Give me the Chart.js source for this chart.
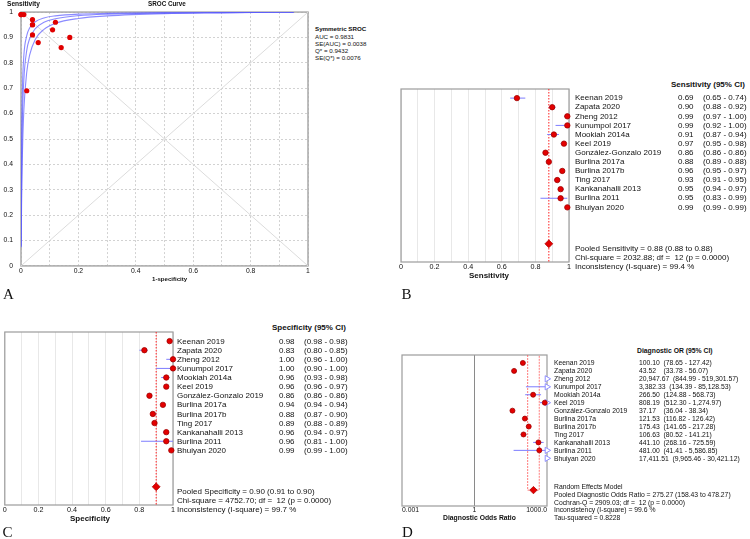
<!DOCTYPE html>
<html>
<head>
<meta charset="utf-8">
<script src="https://cdn.jsdelivr.net/npm/chart.js@4.4.1/dist/chart.umd.min.js"></script>
<style>
  body { margin: 0; width: 750px; height: 539px; position: relative; overflow: hidden; background: #fff;
         font-family: "Liberation Sans", Arial, sans-serif; color: #111; }
  canvas { position: absolute; }
  .t { position: absolute; white-space: pre; line-height: 1; transform: translateY(-50%); }
  .b { font-weight: bold; }
  .letter { position: absolute; font-family: "Liberation Serif", "Times New Roman", serif; font-size: 15px; line-height: 1; }
  .v { display: inline-block; min-width: 20.8px; margin-right: 3.7px; }
</style>
</head>
<body>
<canvas id="sroc" width="312" height="278" style="left:0;top:0"></canvas>
<canvas id="sens" width="183" height="194" style="left:393px;top:80px"></canvas>
<canvas id="spec" width="181" height="195" style="left:0;top:322px"></canvas>
<canvas id="dor" width="163" height="172" style="left:392px;top:346px"></canvas>

<script>
// ---- data ----
const studies = ['Keenan 2019', 'Zapata 2020', 'Zheng 2012', 'Kunumpol 2017', 'Mookiah 2014a', 'Keel 2019',
  'González-Gonzalo 2019', 'Burlina 2017a', 'Burlina 2017b', 'Ting 2017', 'Kankanahalli 2013', 'Burlina 2011', 'Bhuiyan 2020'];

const sensVal = [0.69, 0.90, 0.99, 0.99, 0.91, 0.97, 0.86, 0.88, 0.96, 0.93, 0.95, 0.95, 0.99];
const sensLo  = [0.65, 0.88, 0.97, 0.92, 0.87, 0.95, 0.86, 0.89, 0.95, 0.91, 0.94, 0.83, 0.99];
const sensHi  = [0.74, 0.92, 1.00, 1.00, 0.94, 0.98, 0.86, 0.88, 0.97, 0.95, 0.97, 0.99, 0.99];

const specVal = [0.98, 0.83, 1.00, 1.00, 0.96, 0.96, 0.86, 0.94, 0.88, 0.89, 0.96, 0.96, 0.99];
const specLo  = [0.98, 0.80, 0.96, 0.90, 0.93, 0.96, 0.86, 0.94, 0.87, 0.88, 0.94, 0.81, 0.99];
const specHi  = [0.98, 0.85, 1.00, 1.00, 0.98, 0.97, 0.86, 0.94, 0.90, 0.89, 0.97, 1.00, 1.00];

const dorVal = [100.10, 43.52, 20947.67, 3382.33, 266.50, 808.19, 37.17, 121.53, 175.43, 106.63, 441.10, 481.00, 17411.51];
const dorLo  = [78.65, 33.78, 844.99, 134.39, 124.88, 512.30, 36.04, 116.82, 141.65, 80.52, 268.16, 41.41, 9965.46];
const dorHi  = [127.42, 56.07, 519301.57, 85128.53, 568.73, 1274.97, 38.34, 126.42, 217.28, 141.21, 725.59, 5586.85, 30421.12];

// pooled: estimate, lower, upper
const pooledSens = [0.88, 0.88, 0.88];
const pooledSpec = [0.90, 0.91, 0.90];
const pooledDor  = [275.27, 158.43, 478.27];

const sensSummary = ['Pooled Sensitivity = 0.88 (0.88 to 0.88)', 'Chi-square = 2032.88; df =  12 (p = 0.0000)', 'Inconsistency (I-square) = 99.4 %'];
const specSummary = ['Pooled Specificity = 0.90 (0.91 to 0.90)', 'Chi-square = 4752.70; df =  12 (p = 0.0000)', 'Inconsistency (I-square) = 99.7 %'];
const dorSummary  = ['Random Effects Model', 'Pooled Diagnostic Odds Ratio = 275.27 (158.43 to 478.27)', 'Cochran-Q = 2909.03; df =  12 (p = 0.0000)', 'Inconsistency (I-square) = 99.6 %', 'Tau-squared = 0.8228'];
const srocSummary = ['AUC = 0.9831', 'SE(AUC) = 0.0038', 'Q* = 0.9432', 'SE(Q*) = 0.0076'];

// SROC curves: [1-specificity, sensitivity]
const srocInner = [[0.0002, 0.08], [0.002, 0.49], [0.005, 0.70], [0.01, 0.83], [0.02, 0.907], [0.03, 0.937], [0.05, 0.962],
  [0.08, 0.977], [0.12, 0.985], [0.2, 0.992], [0.3, 0.995], [0.5, 0.998], [0.7, 0.999], [0.95, 1.0]];
const srocMid = [[0.0003, 0.076], [0.002, 0.355], [0.005, 0.58], [0.01, 0.735], [0.02, 0.849], [0.03, 0.895], [0.05, 0.935],
  [0.08, 0.96], [0.12, 0.974], [0.2, 0.986], [0.3, 0.992], [0.5, 0.996], [0.7, 0.998], [0.95, 1.0]];
const srocOuter = [[0.0005, 0.073], [0.002, 0.24], [0.005, 0.443], [0.01, 0.615], [0.02, 0.763], [0.03, 0.83], [0.05, 0.893],
  [0.08, 0.932], [0.12, 0.956], [0.2, 0.975], [0.3, 0.985], [0.5, 0.994], [0.7, 0.997], [0.95, 1.0]];
const chanceLine = [[0, 0], [1, 1]];
const antiDiagonal = [[0, 1], [1, 0]];

// ticks
const rocGrid = [0, 0.1, 0.2, 0.3, 0.4, 0.5, 0.6, 0.7, 0.8, 0.9, 1];
const rocLabelsY = ['0', '0.1', '0.2', '0.3', '0.4', '0.5', '0.6', '0.7', '0.8', '0.9', '1'];
const propLabelsX = ['0', '0.2', '0.4', '0.6', '0.8', '1'];
const dorTicks = [0.001, 1, 1000];
const dorTickLabels = ['0.001', '1', '1000.0'];
const nullEffect = 1;

// ---- setup ----
Chart.defaults.font.family = '"Liberation Sans", Arial, sans-serif';
Chart.defaults.color = '#111';
Chart.defaults.animation = false;

// box around the plot area
Chart.register({
  id: 'frame',
  beforeDatasetsDraw(chart, args, opts) {
    const a = chart.chartArea, ctx = chart.ctx;
    ctx.save();
    ctx.strokeStyle = opts.color || '#999';
    ctx.lineWidth = opts.width || 1;
    ctx.strokeRect(a.left, a.top, a.right - a.left, a.bottom - a.top);
    ctx.restore();
  }
});

function seg(points, color, width, dash, order) {
  return {
    data: points.map(p => ({ x: p[0], y: p[1] })),
    showLine: true, borderColor: color, borderWidth: width, borderDash: dash || [],
    pointRadius: 0, order: order
  };
}

function txt(x, y, s, size, cls) {
  const d = document.createElement('div');
  d.className = 't' + (cls ? ' ' + cls : '');
  d.style.left = x + 'px';
  d.style.top = y + 'px';
  d.style.fontSize = size + 'px';
  d.textContent = s;
  document.body.appendChild(d);
  return d;
}

function letter(x, y, s) {
  const d = document.createElement('div');
  d.className = 'letter';
  d.style.left = x + 'px';
  d.style.top = y + 'px';
  d.textContent = s;
  document.body.appendChild(d);
}

const baseOpts = {
  responsive: false,
  events: [],
  plugins: { legend: { display: false }, tooltip: { enabled: false } }
};

// ---- A: SROC ----
const rocPoints = specVal.map((s, i) => ({ x: 1 - s, y: sensVal[i] }));

new Chart(document.getElementById('sroc'), {
  type: 'scatter',
  data: {
    datasets: [
      { data: rocPoints, pointRadius: 2.6, backgroundColor: '#e00000', borderWidth: 0, order: 0, clip: false },
      seg(srocInner, 'rgba(90,90,255,0.7)', 1.1, [], 1),
      seg(srocMid, 'rgba(90,90,255,0.7)', 1.1, [], 1),
      seg(srocOuter, 'rgba(90,90,255,0.7)', 1.1, [], 1),
      seg(chanceLine, '#dcdcdc', 1, [], 5),
      seg(antiDiagonal, '#dcdcdc', 1, [], 5)
    ].map(d => d.showLine ? Object.assign(d, { cubicInterpolationMode: 'monotone' }) : d)
  },
  options: Object.assign({}, baseOpts, {
    layout: { padding: { top: 11, right: 3, left: 0, bottom: 0 } },
    plugins: Object.assign({}, baseOpts.plugins, { frame: { color: '#a9a9a9', width: 1.5 } }),
    scales: {
      x: {
        type: 'linear', min: 0, max: 1,
        afterBuildTicks: s => { s.ticks = rocGrid.map(v => ({ value: v })); },
        afterFit: s => { s.height = 11; },
        ticks: { font: { size: 6.8 }, padding: 1.2, maxRotation: 0, autoSkip: false,
                 callback: (v, i) => i % 2 ? '' : propLabelsX[i / 2] },
        grid: { color: '#d2d2d2', drawTicks: false },
        border: { display: false, dash: [2, 2] }
      },
      y: {
        type: 'linear', min: 0, max: 1,
        afterBuildTicks: s => { s.ticks = rocGrid.map(v => ({ value: v })); },
        afterFit: s => { s.width = 21; },
        ticks: { font: { size: 6.8 }, padding: 8, autoSkip: false, callback: (v, i) => rocLabelsY[i] },
        grid: { color: '#d2d2d2', drawTicks: false },
        border: { display: false, dash: [2, 2] }
      }
    }
  })
});

txt(7, 4.2, 'Sensitivity', 6.6, 'b');
txt(148, 4.2, 'SROC Curve', 6.3, 'b');
txt(152, 279, '1-specificity', 6.1, 'b');
txt(315, 29.3, 'Symmetric SROC', 6.2, 'b');
srocSummary.forEach((s, i) => txt(315, 36.5 + i * 7.2, s, 6.2));
letter(3, 287.4, 'A');

// ---- forest plots ----
const pooledRow = studies.length + 4;
const rowMax = pooledRow + 2;

function forest(id, o) {
  const ds = [];
  ds.push({ data: o.val.map((v, i) => ({ x: v, y: i + 1 })), pointRadius: o.r, backgroundColor: '#e40000',
            borderColor: '#a00000', borderWidth: 0.8, order: 0, clip: o.clip });
  ds.push({ data: [{ x: o.pooled[0], y: pooledRow }], pointStyle: 'rectRot', pointRadius: o.r + 1.2,
            backgroundColor: '#e40000', borderColor: '#b00000', borderWidth: 0.8, order: 0, clip: false });
  o.val.forEach((v, i) => ds.push(seg([[o.lo[i], i + 1], [o.hi[i], i + 1]], '#7d7dff', 1, [], 2)));
  (o.extra || []).forEach(d => ds.push(d));

  new Chart(document.getElementById(id), {
    type: 'scatter',
    data: { datasets: ds },
    options: Object.assign({}, baseOpts, {
      layout: { padding: o.pad },
      plugins: Object.assign({}, baseOpts.plugins, { frame: { color: '#9c9c9c', width: 1.2 } }),
      scales: {
        x: Object.assign({
          afterFit: s => { s.height = 12; },
          border: { display: false }
        }, o.x),
        y: { type: 'linear', min: 0, max: rowMax, reverse: true, display: false }
      }
    })
  });
}

function propAxis() {
  return {
    type: 'linear', min: 0, max: 1,
    afterBuildTicks: s => { s.ticks = rocGrid.map(v => ({ value: v })); },
    ticks: { font: { size: 7.2 }, padding: 0.6, maxRotation: 0, autoSkip: false,
             callback: (v, i) => i % 2 ? '' : propLabelsX[i / 2] },
    grid: { color: '#e8e8e8', drawTicks: false }
  };
}

// B: sensitivity
forest('sens', {
  val: sensVal, lo: sensLo, hi: sensHi, pooled: pooledSens, r: 2.7, clip: false,
  pad: { top: 9, left: 8, right: 7, bottom: 0 },
  x: propAxis(),
  extra: [seg([[pooledSens[0], 0], [pooledSens[0], rowMax]], '#ff2020', 1, [1.5, 1.5], 3)]
});

// C: specificity
forest('spec', {
  val: specVal, lo: specLo, hi: specHi, pooled: pooledSpec, r: 2.7, clip: false,
  pad: { top: 10, left: 3, right: 8, bottom: 0 },
  x: propAxis(),
  extra: [seg([[pooledSpec[0], 0], [pooledSpec[0], rowMax]], '#ff2020', 1, [1.5, 1.5], 3)]
});

// D: diagnostic odds ratio
const dorMax = dorTicks[dorTicks.length - 1];
const beyond = [];
dorHi.forEach((h, i) => { if (h > dorMax) beyond.push({ x: dorMax, y: i + 1 }); });

forest('dor', {
  val: dorVal, lo: dorLo, hi: dorHi, pooled: pooledDor, r: 2.5, clip: 4,
  pad: { top: 9, left: 10, right: 8, bottom: 0 },
  x: {
    type: 'logarithmic', min: dorTicks[0], max: dorMax,
    afterBuildTicks: s => { s.ticks = dorTicks.map(v => ({ value: v })); },
    ticks: { font: { size: 6.8 }, padding: 0, maxRotation: 0, autoSkip: false, align: 'inner',
             callback: (v, i) => dorTickLabels[i] },
    grid: { drawTicks: false, color: c => c.tick && c.tick.value === nullEffect ? '#8a8a8a' : 'rgba(0,0,0,0)' }
  },
  extra: [
    { data: beyond, pointStyle: 'triangle', rotation: 90, pointRadius: 3.6, backgroundColor: '#fff',
      borderColor: '#8f8fff', borderWidth: 1, order: 1, clip: false },
    seg([[pooledDor[1], 0], [pooledDor[1], pooledRow], [pooledDor[2], pooledRow], [pooledDor[2], 0]],
        'rgba(255,80,80,0.75)', 1, [2, 1], 3)
  ]
});

// ---- forest plot texts ----
function fmt2(v) { return v.toFixed(2); }
function fmtDor(v) { return v.toLocaleString('en-US', { minimumFractionDigits: 2, maximumFractionDigits: 2 }); }

// B
txt(671, 85, 'Sensitivity (95% CI)', 8, 'b');
studies.forEach((s, i) => {
  const y = 98.3 + i * 9.1;
  txt(575, y, s, 8);
  txt(678, y, fmt2(sensVal[i]), 8);
  txt(703, y, '(' + fmt2(sensLo[i]) + ' - ' + fmt2(sensHi[i]) + ')', 8);
});
sensSummary.forEach((s, i) => txt(575, 248.7 + i * 9.1, s, 8));
txt(469, 276, 'Sensitivity', 8, 'b');
letter(401.5, 286.5, 'B');

// C
txt(272, 328.3, 'Specificity (95% CI)', 8, 'b');
studies.forEach((s, i) => {
  const y = 341.7 + i * 9.1;
  txt(177, y, s, 8);
  txt(279, y, fmt2(specVal[i]), 8);
  txt(304, y, '(' + fmt2(specLo[i]) + ' - ' + fmt2(specHi[i]) + ')', 8);
});
specSummary.forEach((s, i) => txt(177, 491.7 + i * 9.1, s, 8));
txt(70, 519.3, 'Specificity', 8, 'b');
letter(2.5, 524.5, 'C');

// D
txt(637, 350.7, 'Diagnostic OR (95% CI)', 6.8, 'b');
studies.forEach((s, i) => {
  const y = 363.3 + i * 8;
  txt(554, y, s, 6.8);
  const d = txt(639, y, '', 6.8);
  const v = document.createElement('span');
  v.className = 'v';
  v.textContent = fmtDor(dorVal[i]);
  d.appendChild(v);
  d.appendChild(document.createTextNode('(' + fmtDor(dorLo[i]) + ' - ' + fmtDor(dorHi[i]) + ')'));
});
dorSummary.forEach((s, i) => txt(554, 486.7 + i * 7.9, s, 6.8));
txt(443, 518.3, 'Diagnostic Odds Ratio', 6.8, 'b');
letter(402, 524.5, 'D');
</script>
</body>
</html>
